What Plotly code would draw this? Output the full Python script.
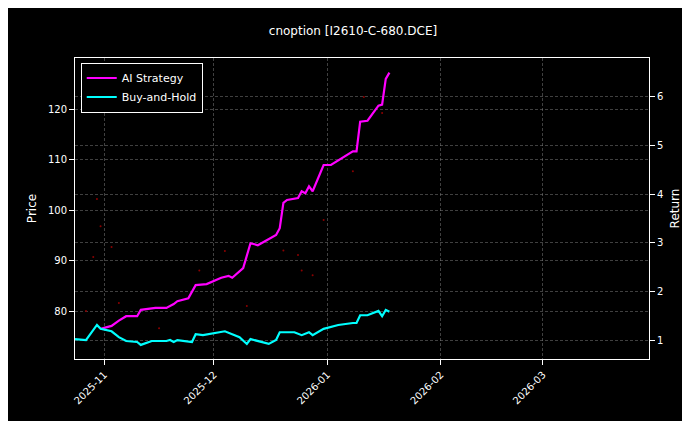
import plotly.graph_objects as go

bh_dates = ["2025-10-24","2025-10-27","2025-10-30","2025-10-31","2025-11-03","2025-11-05","2025-11-07","2025-11-10","2025-11-11","2025-11-14","2025-11-18","2025-11-19","2025-11-20","2025-11-21","2025-11-25","2025-11-26","2025-11-28","2025-12-04","2025-12-08","2025-12-10","2025-12-11","2025-12-16","2025-12-18","2025-12-19","2025-12-23","2025-12-25","2025-12-27","2025-12-28","2025-12-31","2026-01-04","2026-01-08","2026-01-09","2026-01-10","2026-01-12","2026-01-15","2026-01-16","2026-01-17","2026-01-18"]
bh_vals = [1.02,1.0,1.31,1.23,1.18,1.06,0.98,0.96,0.9,0.98,0.98,1.0,0.96,1.0,0.96,1.12,1.1,1.18,1.06,0.92,1.02,0.92,1.0,1.16,1.16,1.1,1.16,1.1,1.23,1.31,1.35,1.35,1.51,1.51,1.6,1.49,1.62,1.58]

ai_dates = ["2025-10-31","2025-11-03","2025-11-05","2025-11-07","2025-11-10","2025-11-11","2025-11-15","2025-11-18","2025-11-20","2025-11-21","2025-11-24","2025-11-26","2025-11-29","2025-12-03","2025-12-05","2025-12-06","2025-12-09","2025-12-11","2025-12-13","2025-12-18","2025-12-19","2025-12-20","2025-12-21","2025-12-24","2025-12-25","2025-12-26","2025-12-27","2025-12-28","2025-12-31","2026-01-02","2026-01-08","2026-01-09","2026-01-10","2026-01-12","2026-01-15","2026-01-16","2026-01-17","2026-01-18"]
ai_vals = [1.23,1.29,1.4,1.49,1.49,1.62,1.66,1.66,1.74,1.8,1.86,2.13,2.15,2.28,2.32,2.28,2.48,2.99,2.95,3.16,3.3,3.82,3.88,3.92,4.06,4.02,4.16,4.06,4.6,4.6,4.88,4.88,5.49,5.51,5.82,5.84,6.37,6.5]

px_dates = ["2025-10-27","2025-10-29","2025-10-30","2025-10-31","2025-11-03","2025-11-05","2025-11-16","2025-11-27","2025-12-04","2025-12-10","2025-12-20","2025-12-24","2025-12-25","2025-12-28","2025-12-31","2026-01-08","2026-01-11","2026-01-16"]
px_vals = [80.0,90.7,102.2,96.8,92.7,81.6,76.6,88.0,91.9,81.0,92.0,91.1,88.0,87.1,98.0,107.7,122.4,119.2]

fig = go.Figure()
fig.add_trace(go.Scatter(x=px_dates, y=px_vals, mode="markers", marker=dict(color="#8b0000", size=2),
                         showlegend=False, yaxis="y"))
fig.add_trace(go.Scatter(x=ai_dates, y=ai_vals, mode="lines", name="AI Strategy",
                         line=dict(color="#ff00ff", width=2.2), yaxis="y2"))
fig.add_trace(go.Scatter(x=bh_dates, y=bh_vals, mode="lines", name="Buy-and-Hold",
                         line=dict(color="#00ffff", width=2.2), yaxis="y2"))

grid = dict(showgrid=True, gridcolor="rgba(128,128,128,0.5)", griddash="3px,2px", gridwidth=0.6)
fig.update_layout(
    width=690, height=421, paper_bgcolor="black", plot_bgcolor="black",
    font=dict(family="DejaVu Sans", color="white", size=10),
    margin=dict(l=67, r=49, t=50, b=70, autoexpand=False),
    title=dict(text="cnoption [I2610-C-680.DCE]", x=0.5, xanchor="center", y=0.955, font=dict(size=12)),
    xaxis=dict(range=["2025-10-24","2026-03-30"], tickvals=["2025-11-01","2025-12-01","2026-01-01","2026-02-01","2026-03-01"],
               ticktext=["2025-11","2025-12","2026-01","2026-02","2026-03"], tickangle=-45, automargin=False,
               showline=True, linecolor="white", mirror=True, ticks="outside", tickcolor="white", zeroline=False, **grid),
    yaxis=dict(title=dict(text="Price", standoff=8), range=[70.5, 130.1], tickvals=[80, 90, 100, 110, 120], automargin=False,
               showline=True, linecolor="white", mirror=True, ticks="outside", tickcolor="white", zeroline=False, **grid),
    yaxis2=dict(title=dict(text="Return", standoff=8), range=[0.61, 6.8], overlaying="y", side="right", tickvals=[1,2,3,4,5,6],
                automargin=False, ticks="outside", tickcolor="white", zeroline=False, **grid),
    legend=dict(x=0.01, y=0.985, xanchor="left", yanchor="top", bgcolor="black", bordercolor="white", borderwidth=1,
                font=dict(size=11)),
)
fig.write_html("out.html")
